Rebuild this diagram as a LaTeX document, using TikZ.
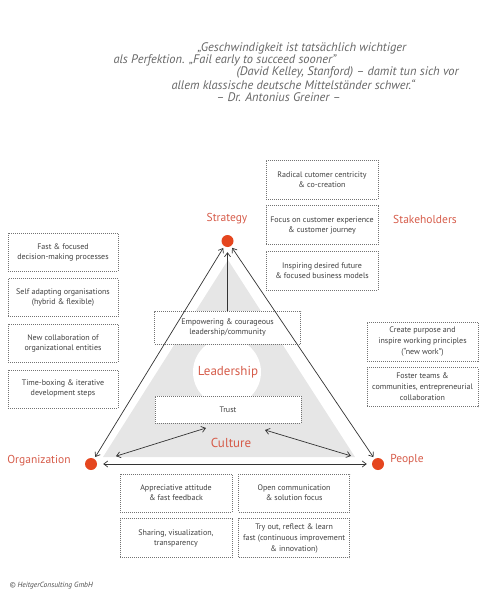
\documentclass[tikz,border=0pt]{standalone}
\usepackage{fontspec}
\setmainfont{PT Sans}
\usetikzlibrary{positioning, arrows.meta}
\definecolor{signal}{HTML}{E5461F}
\definecolor{polered}{HTML}{D65C4A}
\definecolor{quotegray}{HTML}{666666}
\definecolor{tri}{HTML}{E6E6E6}

\begin{document}
\begin{tikzpicture}[x=1pt, y=-1pt, node distance=6pt,
        every node/.style={font=\fontsize{8}{10}\selectfont, text=black!75},
        box/.style={rectangle, draw=black!55, dash pattern=on 1pt off 1pt,
          line width=0.6pt, fill=white, minimum height=38pt, align=center, inner sep=1pt},
        lbox/.style={box, minimum width=110pt},
        rbox/.style={box, minimum width=112pt, minimum height=39pt},
        dot/.style={circle, fill=signal, minimum size=12pt, inner sep=0pt},
        pole/.style={text=polered, font=\fontsize{11.5}{13}\selectfont},
        arr/.style={-{Straight Barb[length=4pt, width=6pt]}, line width=0.7pt, draw=black!80},
        dbl/.style={arr, {Straight Barb[length=4pt, width=6pt]}-{Straight Barb[length=4pt, width=6pt]}},
        quote/.style={anchor=west, text=quotegray, font=\fontsize{12.4}{14}\selectfont\itshape}]
      \useasboundingbox (0,0) rectangle (500,615);

      % quote
      \node[quote] (q1) at (194,48) {„Geschwindigkeit ist tatsächlich wichtiger};
      \node[quote] (q2) at (110,60.5) {als Perfektion. „Fail early to succeed sooner”};
      \node[quote] (q3) at (233,72.5) {(David Kelley, Stanford) – damit tun sich vor};
      \node[quote] (q4) at (168,84.5) {allem klassische deutsche Mittelständer schwer.“};
      \node[quote] (q5) at (213,97) {– Dr. Antonius Greiner –};

      % triangle
      \fill[tri] (228,260) -- (103,457) -- (355,457) -- cycle;
      \fill[white] (227,372) circle (34);

      % poles
      \node[dot] (strat) at (227.5,241) {};
      \node[dot] (org) at (91,464) {};
      \node[dot] (ppl) at (378,464) {};
      \node[pole] at (227,219) {Strategy};
      \node[pole] at (425,219) {Stakeholders};
      \node[pole] at (39,461) {Organization};
      \node[pole] at (407,460) {People};
      \node[pole, font=\fontsize{13}{15}\selectfont] (lead) at (228,372) {Leadership};
      \node[pole, font=\fontsize{13}{15}\selectfont] (cult) at (231,443) {Culture};

      % inner boxes
      \node[box, minimum width=146pt, minimum height=33pt] (emp) at (227.5,327.5)
        {Empowering \& courageous\\leadership/community};
      \node[box, minimum width=146pt, minimum height=27pt] (trust) at (228,409.5) {Trust};

      % left column
      \node[lbox] (fast) at (63,252) {Fast \& focused\\decision-making processes};
      \node[lbox, below=7pt of fast] (self) {Self adapting organisations\\(hybrid \& flexible)};
      \node[lbox, below=7pt of self] (coll) {New collaboration of\\organizational entities};
      \node[lbox, below=7pt of coll] (tbox) {Time-boxing \& iterative\\development steps};

      % stakeholder column
      \node[rbox] (radical) at (322,179.5) {Radical cutomer centricity\\\& co-creation};
      \node[rbox, below=of radical] (focus) {Focus on customer experience\\\& customer journey};
      \node[rbox, below=of focus] (insp) {Inspiring desired future\\\& focused business models};

      % people column
      \node[rbox, minimum width=111pt, font=\fontsize{8}{11}\selectfont] (purp) at (422.5,341.5)
        {Create purpose and\\inspire working principles\\(“new work”)};
      \node[rbox, minimum width=111pt, below=of purp, font=\fontsize{8}{11}\selectfont] (team)
        {Foster teams \&\\communities, entrepreneurial\\collaboration};

      % culture boxes
      \node[rbox, minimum height=38pt] (appr) at (176,493) {Appreciative attitude\\\& fast feedback};
      \node[rbox, minimum width=111pt, minimum height=38pt, right=of appr] (open)
        {Open communication\\\& solution focus};
      \node[rbox, minimum height=39pt, below=of appr] (share) {Sharing, visualization,\\transparency};
      \node[rbox, minimum width=111pt, minimum height=39pt, below=of open, font=\fontsize{8}{11}\selectfont] (tryout)
        {Try out, reflect \& learn\\fast (continuous improvement\\\& innovation)};

      % connectors
      \coordinate (cl) at (206,428);
      \coordinate (cr) at (265,430);
      \draw[dbl, shorten <=2pt, shorten >=2pt] (org) -- (strat);
      \draw[dbl, shorten <=2pt, shorten >=2pt] (ppl) -- (strat);
      \draw[dbl, shorten <=6pt, shorten >=5pt] (org) -- (ppl);
      \draw[arr, shorten >=5pt] (emp.north) -- (strat);
      \draw[dbl, shorten <=20pt] (org) -- (cl);
      \draw[dbl, shorten >=22pt] (cr) -- (ppl);

      \node[anchor=west, font=\fontsize{7.5}{9}\selectfont\itshape, text=black!70] (copy) at (6,586)
        {© HeitgerConsulting GmbH};
    \end{tikzpicture}
\end{document}
